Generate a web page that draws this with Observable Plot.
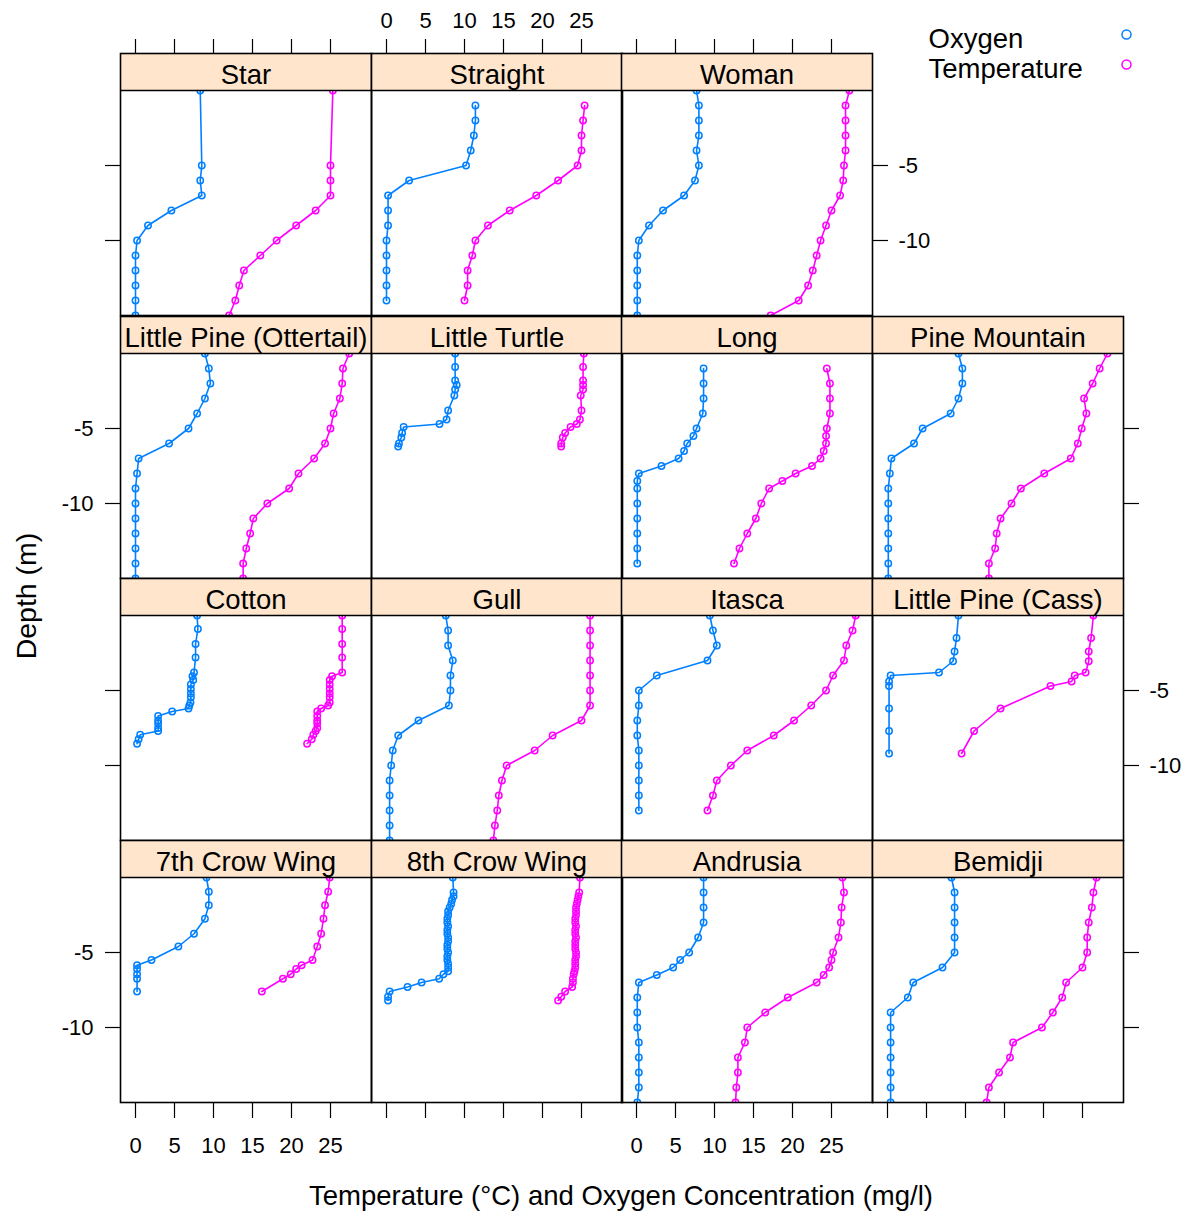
<!DOCTYPE html>
<html><head><meta charset="utf-8">
<script src="https://cdn.jsdelivr.net/npm/d3@7"></script>
<script src="https://cdn.jsdelivr.net/npm/@observablehq/plot@0.6"></script>
<style>
body{margin:0;background:#fff;}
#chart{position:relative;width:1188px;height:1213px;font-family:"Liberation Sans",Arial,sans-serif;color:#000;overflow:hidden;}
.ttl{position:absolute;font-size:27.5px;white-space:nowrap;line-height:1;}
</style></head><body><div id="chart"></div><script>
// ---------------- data ----------------
const series = ["Oxygen", "Temperature"];
const seriesColors = ["#0080ff", "#ff00ff"];
const xTicks = [0, 5, 10, 15, 20, 25];
const yTicks = [-5, -10];

const lakes = ["Star", "Straight", "Woman",
  "Little Pine (Ottertail)", "Little Turtle", "Long", "Pine Mountain",
  "Cotton", "Gull", "Itasca", "Little Pine (Cass)",
  "7th Crow Wing", "8th Crow Wing", "Andrusia", "Bemidji"];
const lakeRow = [0,0,0, 1,1,1,1, 2,2,2,2, 3,3,3,3];
const lakeCol = [0,1,2, 0,1,2,3, 0,1,2,3, 0,1,2,3];

const starDepth = [0,-5,-6,-7,-8,-9,-10,-11,-12,-13,-14,-15];
const starOxygen = [8.3,8.5,8.3,8.5,4.6,1.6,0.2,0.0,0.0,0.0,0.0,0.0];
const starTemp = [25.3,25.0,25.0,25.0,23.1,20.6,18.1,16.0,13.9,13.3,12.8,12.0];

const straightDepth = [-1,-2,-3,-4,-5,-6,-7,-8,-9,-10,-11,-12,-13,-14];
const straightOxygen = [11.4,11.4,11.2,10.8,10.2,2.9,0.2,0.2,0.2,0.0,0.0,0.0,0.0,0.0];
const straightTemp = [25.4,25.2,25.0,25.0,24.5,22.0,19.2,15.8,13.0,11.4,11.0,10.4,10.4,10.0];

const womanDepth = [0,-1,-2,-3,-4,-5,-6,-7,-8,-9,-10,-11,-12,-13,-14,-15];
const womanOxygen = [7.7,8.0,8.0,8.0,7.7,8.0,7.5,6.1,3.4,1.6,0.3,0.1,0.1,0.1,0.1,0.1];
const womanTemp = [27.3,26.8,26.8,26.8,26.8,26.6,26.5,26.1,25.0,24.3,23.6,23.1,22.6,22.0,20.8,17.2];

const ottertailDepth = [0,-1,-2,-3,-4,-5,-6,-7,-8,-9,-10,-11,-12,-13,-14,-15];
const ottertailOxygen = [8.9,9.4,9.6,8.9,7.9,6.8,4.3,0.4,0.2,0,0,0,0,0,0,0];
const ottertailTemp = [27.4,26.6,26.5,26.2,25.4,25.0,24.3,22.9,20.9,19.7,16.9,15.1,14.7,14.2,13.8,13.8];

const turtleDepth = [0,-0.9,-1.8,-2.1,-2.4,-2.8,-3.8,-4.4,-4.7,-4.9,-5.3,-5.6,-6.0,-6.2];
const turtleOxygen = [8.8,8.8,8.8,9.0,8.8,8.7,7.9,7.7,6.8,2.2,2.0,1.9,1.6,1.5];
const turtleTemp = [25.3,25.2,25.2,25.2,25.2,24.9,25.0,24.8,24.4,23.6,22.9,22.6,22.4,22.4];

const longDepth = [-1,-2,-3,-4,-5,-5.5,-6,-6.5,-7,-7.5,-8,-8.5,-9,-10,-11,-12,-13,-14];
const longOxygen = [8.6,8.6,8.6,8.5,7.7,7.3,6.5,6.1,5.4,3.2,0.3,0.1,0.1,0.1,0.1,0.1,0.1,0.1];
const longTemp = [24.4,24.8,24.8,24.8,24.4,24.3,24.3,24.0,23.6,22.5,20.4,18.7,17.0,16.0,15.3,14.2,13.2,12.5];

const pineMtnDepth = [0,-1,-2,-3,-4,-5,-6,-7,-8,-9,-10,-11,-12,-13,-14,-15];
const pineMtnOxygen = [9.1,9.6,9.6,9.1,8.1,4.5,3.4,0.5,0.3,0.1,0.1,0.1,0.1,0.1,0.1,0.1];
const pineMtnTemp = [28.2,27.2,26.3,25.2,25.5,24.9,24.4,23.5,20.1,17.1,15.9,14.5,14.0,13.8,13.0,13.0];

const cottonDepth = [0,-0.9,-1.9,-2.8,-3.8,-4.05,-4.3,-4.6,-4.9,-5.2,-5.45,-5.8,-6.0,-6.2,-6.4,-6.7,-7.0,-7.2,-7.5,-7.7,-7.95,-8.25,-8.55];
const cottonOxygen = [7.9,8.0,7.7,7.7,7.5,7.3,7.4,7.1,7.1,7.1,7.1,7.05,6.9,6.8,4.7,2.9,2.9,2.9,2.9,2.9,0.6,0.4,0.2];
const cottonTemp = [26.5,26.5,26.5,26.5,26.5,25.2,24.9,24.9,24.9,24.9,24.9,24.9,24.7,23.8,23.3,23.3,23.3,23.3,23.3,23.1,22.8,22.6,22.0];

const gullDepth = [0,-1,-2,-3,-4,-5,-6,-7,-8,-9,-10,-11,-12,-13,-14,-15];
const gullOxygen = [7.6,7.9,7.9,8.5,8.2,8.2,8.0,4.1,1.5,0.8,0.6,0.4,0.4,0.4,0.4,0.4];
const gullTemp = [26.1,26.1,26.1,26.1,26.1,26.1,26.1,25.0,21.3,19.0,15.4,14.8,14.4,14.2,13.9,13.7];

const itascaDepth = [0,-1,-2,-3,-4,-5,-6,-7,-8,-9,-10,-11,-12,-13];
const itascaOxygen = [9.4,9.8,10.3,9.1,2.6,0.3,0.3,0.1,0.1,0.3,0.3,0.3,0.3,0.3];
const itascaTemp = [28.1,27.7,26.9,26.6,25.2,24.3,22.4,20.2,17.6,14.2,12.1,10.3,9.8,9.1];

const cassDepth = [0,-1.5,-2.4,-3.05,-3.8,-4.0,-4.4,-4.7,-6.2,-7.7,-9.2];
const cassOxygen = [9.1,8.85,8.6,8.4,6.6,0.4,0.2,0.2,0.2,0.2,0.2];
const cassTemp = [26.4,26.1,25.8,25.8,25.4,24.0,23.6,20.9,14.5,11.1,9.5];

const crow7Depth = [0,-0.95,-1.85,-2.75,-3.75,-4.6,-5.5,-5.85,-6.1,-6.45,-6.75,-7.6];
const crow7Oxygen = [9.1,9.4,9.4,8.9,7.5,5.5,2.05,0.2,0.2,0.2,0.2,0.2];
const crow7Temp = [24.9,24.7,24.3,24.1,23.8,23.3,22.7,21.3,20.6,19.9,18.9,16.2];

const crow8Depth = [0,-1.0,-1.25,-1.5,-1.75,-2.0,-2.25,-2.5,-2.75,-3.0,-3.25,-3.5,-3.75,-4.0,-4.25,-4.5,-4.75,-5.0,-5.25,-5.5,-5.75,-6.0,-6.25,-6.45,-6.75,-7.0,-7.3,-7.6,-7.95,-8.2];
const crow8Oxygen = [8.5,8.6,8.6,8.4,8.3,8.1,7.9,7.9,7.8,7.8,7.9,7.8,7.8,7.9,7.9,7.8,7.8,7.9,7.8,7.8,7.9,7.9,7.9,7.3,6.75,4.5,2.7,0.4,0.2,0.2];
const crow8Temp = [24.8,24.7,24.6,24.5,24.4,24.3,24.3,24.3,24.2,24.2,24.3,24.2,24.2,24.3,24.2,24.2,24.2,24.3,24.3,24.2,24.2,24.2,24.1,24.0,23.9,23.9,23.8,22.9,22.4,22.0];

const andrusiaDepth = [0,-1,-2,-3,-4,-5,-5.5,-6,-6.5,-7,-8,-9,-10,-11,-12,-13,-14,-15];
const andrusiaOxygen = [8.6,8.6,8.6,8.6,7.9,6.75,5.6,4.7,2.6,0.3,0.1,0.1,0.1,0.3,0.3,0.3,0.3,0.1];
const andrusiaTemp = [26.4,26.6,26.3,26.2,25.9,25.2,25.0,24.7,24.0,23.1,19.4,16.5,14.2,13.9,13.0,13.0,12.8,12.7];

const bemidjiDepth = [0,-1,-2,-3,-4,-5,-6,-7,-8,-9,-10,-11,-12,-13,-14,-15];
const bemidjiOxygen = [8.2,8.6,8.6,8.6,8.6,8.6,7.05,3.3,2.6,0.4,0.4,0.4,0.4,0.4,0.4,0.4];
const bemidjiTemp = [26.8,26.4,26.2,25.8,25.6,25.6,25.0,22.9,22.4,21.2,19.8,16.1,15.7,14.3,13.0,12.7];

const lakeDepths = [starDepth, straightDepth, womanDepth, ottertailDepth, turtleDepth, longDepth, pineMtnDepth,
  cottonDepth, gullDepth, itascaDepth, cassDepth, crow7Depth, crow8Depth, andrusiaDepth, bemidjiDepth];
const lakeOxygen = [starOxygen, straightOxygen, womanOxygen, ottertailOxygen, turtleOxygen, longOxygen, pineMtnOxygen,
  cottonOxygen, gullOxygen, itascaOxygen, cassOxygen, crow7Oxygen, crow8Oxygen, andrusiaOxygen, bemidjiOxygen];
const lakeTemp = [starTemp, straightTemp, womanTemp, ottertailTemp, turtleTemp, longTemp, pineMtnTemp,
  cottonTemp, gullTemp, itascaTemp, cassTemp, crow7Temp, crow8Temp, andrusiaTemp, bemidjiTemp];

// ---------------- layout ----------------
const FONT = '"Liberation Sans", Arial, sans-serif';
const panelW = 251, stripH = 37, pxPerM = 15, panelH = 15 * pxPerM + stripH;
const colLeft = [120, 370.5, 621, 871.5];
const rowTop = [53.3, 315.5, 577.7, 839.9];
const xDomain = [-15 / 7.8, (panelW - 15) / 7.8];
const yDomain = [-15, stripH / pxPerM];

const chart = document.getElementById("chart");

lakes.forEach((lake, i) => {
  const r = lakeRow[i], c = lakeCol[i];
  const data = [];
  lakeDepths[i].forEach((d, k) => {
    data.push({variable: series[0], depth: d, value: lakeOxygen[i][k]});
  });
  lakeDepths[i].forEach((d, k) => {
    data.push({variable: series[1], depth: d, value: lakeTemp[i][k]});
  });
  const marks = [
    Plot.line(data, {x: "value", y: "depth", z: "variable", stroke: "variable", strokeWidth: 1.6, clip: true}),
    Plot.dot(data, {x: "value", y: "depth", stroke: "variable", r: 3.2, strokeWidth: 1.5, clip: true}),
    Plot.rect([lake], {x1: () => xDomain[0], x2: () => xDomain[1], y1: () => 0, y2: () => yDomain[1], fill: "#ffe5cc"}),
    Plot.ruleY([0], {stroke: "#000", strokeWidth: 1.5}),
    Plot.text([lake], {text: d => d, frameAnchor: "top", dy: stripH / 2 + 3.5, lineAnchor: "middle", fontSize: 27.5, fill: "#000"}),
    Plot.frame({stroke: "#000", strokeWidth: 1.6})
  ];
  const noLab = () => "";
  const lab = d => String(d);
  if (r === 0) marks.push(Plot.axisX({anchor: "top", ticks: xTicks, tickSize: 15, tickPadding: 11, strokeWidth: 1.2,
    tickFormat: c === 1 ? lab : noLab, label: null, fontSize: 22}));
  if (r === 3) marks.push(Plot.axisX({anchor: "bottom", ticks: xTicks, tickSize: 16, tickPadding: 19, strokeWidth: 1.2,
    tickFormat: (c === 0 || c === 2) ? lab : noLab, label: null, fontSize: 22}));
  if (c === 0) marks.push(Plot.axisY({anchor: "left", ticks: yTicks, tickSize: 15, tickPadding: 12, strokeWidth: 1.2,
    tickFormat: (r === 1 || r === 3) ? lab : noLab, label: null, fontSize: 22}));
  if (c === 3 || (r === 0 && c === 2)) marks.push(Plot.axisY({anchor: "right", ticks: yTicks, tickSize: 15, tickPadding: 11, strokeWidth: 1.2,
    tickFormat: (r === 0 || r === 2) ? lab : noLab, label: null, fontSize: 22}));

  const svg = Plot.plot({
    width: panelW, height: panelH,
    marginTop: 0, marginRight: 0, marginBottom: 0, marginLeft: 0,
    x: {domain: xDomain, axis: null},
    y: {domain: yDomain, axis: null},
    color: {domain: series, range: seriesColors},
    style: {overflow: "visible", background: "none", fontFamily: FONT, fontSize: "22px", color: "#000"},
    marks
  });
  svg.style.position = "absolute";
  svg.style.left = colLeft[c] + "px";
  svg.style.top = rowTop[r] + "px";
  chart.appendChild(svg);
});

// legend
const legend = Plot.plot({
  width: 210, height: 90, margin: 0,
  x: {domain: [0, 1], range: [0, 198], axis: null},
  y: {type: "point", domain: series, range: [39, 69], padding: 0, axis: null},
  color: {domain: series, range: seriesColors},
  style: {overflow: "visible", background: "none", fontFamily: FONT, color: "#000"},
  marks: [
    Plot.text(series, {x: () => 0, y: d => d, text: d => d, textAnchor: "start", lineAnchor: "middle", fontSize: 27.5, fill: "#000"}),
    Plot.dot(series, {x: () => 1, y: d => d, dy: -5, stroke: d => d, r: 4.5, strokeWidth: 1.5})
  ]
});
legend.style.position = "absolute";
legend.style.left = "928px";
legend.style.top = "0px";
chart.appendChild(legend);

// axis titles
const xt = document.createElement("div");
xt.className = "ttl";
xt.textContent = "Temperature (°C) and Oxygen Concentration (mg/l)";
xt.style.left = "621px"; xt.style.top = "1196px"; xt.style.transform = "translate(-50%,-50%)";
chart.appendChild(xt);
const yt = document.createElement("div");
yt.className = "ttl";
yt.textContent = "Depth (m)";
yt.style.fontSize = "28.5px";
yt.style.left = "26px"; yt.style.top = "596px"; yt.style.transform = "translate(-50%,-50%) rotate(-90deg)";
chart.appendChild(yt);
</script></body></html>
